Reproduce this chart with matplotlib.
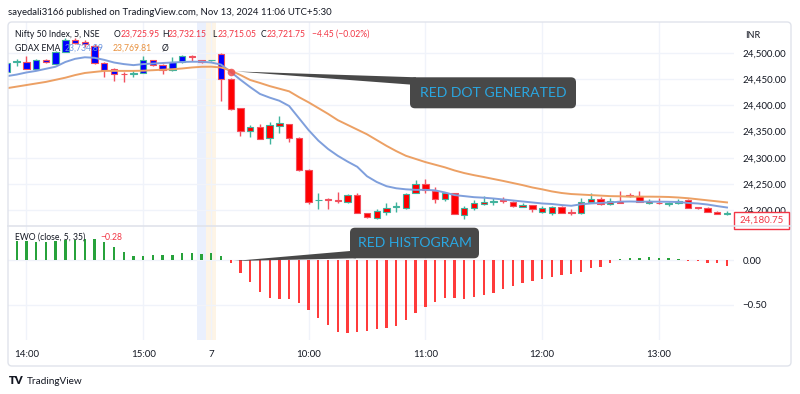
import numpy as np
import matplotlib
matplotlib.use("Agg")
import matplotlib.pyplot as plt
from matplotlib.patches import FancyBboxPatch, Polygon, Rectangle

plt.rcParams['font.family'] = ['Lato', 'DejaVu Sans']

# ---------------- data ----------------
first_bar = -1
opens = [
    24464.5, 24482.4, 24483.5, 24469.6, 24486.8, 24479.1, 24502.6, 24525.9, 24521.1, 24513.5,
    24480.5, 24469.6, 24461.0, 24460.1, 24462.5, 24486.8, 24477.2, 24467.7, 24482.4, 24493.5,
    24486.8, 24486.2, 24498.2, 24451.1, 24394.6, 24351.9, 24359.5, 24338.5, 24360.8, 24364.7,
    24337.4, 24276.9, 24219.1, 24221.6, 24219.7, 24216.4, 24228.6, 24194.3, 24184.7, 24197.3,
    24206.3, 24203.8, 24233.6, 24250.2, 24237.4, 24221.6, 24232.4, 24191.0, 24203.8, 24212.8,
    24214.9, 24219.1, 24216.4, 24206.9, 24210.1, 24196.2, 24195.4, 24206.9, 24196.2, 24194.3,
    24215.3, 24221.0, 24212.0, 24218.3, 24229.4, 24227.9, 24213.4, 24214.5, 24212.0, 24213.4,
    24219.7, 24205.7, 24205.0, 24197.3, 24193.0,
]
highs = [
    24483.0, 24488.1, 24494.4, 24488.7, 24489.6, 24503.9, 24528.7, 24528.7, 24525.9, 24517.3,
    24483.0, 24471.5, 24463.0, 24467.7, 24494.4, 24487.7, 24478.2, 24493.1, 24495.4, 24496.3,
    24487.7, 24487.1, 24499.2, 24452.4, 24395.2, 24362.8, 24364.1, 24369.0, 24380.0, 24365.6,
    24340.4, 24277.9, 24233.6, 24222.9, 24235.5, 24231.1, 24232.4, 24195.0, 24202.5, 24213.4,
    24216.4, 24233.0, 24257.8, 24259.1, 24243.9, 24235.5, 24233.0, 24208.2, 24219.7, 24227.3,
    24222.9, 24225.0, 24217.7, 24213.4, 24211.0, 24208.2, 24208.2, 24208.2, 24201.9, 24222.9,
    24233.6, 24226.0, 24222.9, 24237.4, 24233.6, 24237.4, 24221.6, 24222.9, 24216.4, 24221.0,
    24220.6, 24206.9, 24206.3, 24198.7, 24199.2,
]
lows = [
    24463.0, 24475.3, 24469.0, 24468.6, 24482.0, 24478.2, 24502.0, 24517.3, 24511.6, 24479.1,
    24453.8, 24447.3, 24445.4, 24453.8, 24462.0, 24475.3, 24460.1, 24466.7, 24482.0, 24485.8,
    24481.0, 24485.8, 24408.5, 24391.4, 24341.8, 24340.4, 24336.0, 24325.9, 24348.0, 24330.9,
    24275.9, 24212.0, 24201.9, 24201.9, 24213.4, 24213.4, 24193.9, 24185.3, 24183.4, 24191.0,
    24197.3, 24202.5, 24233.0, 24232.4, 24213.4, 24218.0, 24193.0, 24182.8, 24200.6, 24210.1,
    24210.1, 24213.4, 24207.2, 24205.7, 24196.2, 24194.9, 24191.0, 24194.9, 24191.0, 24193.0,
    24214.0, 24210.1, 24210.1, 24217.7, 24225.4, 24215.8, 24212.0, 24211.5, 24208.2, 24212.0,
    24203.4, 24202.5, 24196.7, 24192.0, 24191.0,
]
closes = [
    24480.5, 24484.9, 24469.6, 24486.8, 24482.4, 24502.6, 24524.9, 24519.2, 24518.2, 24480.5,
    24467.7, 24460.1, 24460.1, 24462.5, 24486.8, 24477.2, 24467.7, 24482.4, 24494.4, 24491.9,
    24482.4, 24486.8, 24451.1, 24392.7, 24351.9, 24358.4, 24336.6, 24362.8, 24366.0, 24338.0,
    24276.9, 24216.4, 24220.2, 24219.7, 24216.8, 24229.2, 24194.3, 24186.6, 24199.2, 24203.8,
    24207.6, 24230.5, 24250.2, 24238.7, 24221.6, 24232.4, 24193.0, 24203.8, 24214.5, 24215.8,
    24216.8, 24217.7, 24208.2, 24210.1, 24201.9, 24203.8, 24206.9, 24195.4, 24194.9, 24216.4,
    24221.0, 24211.5, 24218.3, 24213.0, 24228.1, 24216.4, 24218.3, 24213.0, 24214.5, 24218.3,
    24203.8, 24204.4, 24197.3, 24193.0, 24195.4,
]
ema_fast = [
    24456, 24459, 24463, 24466, 24470, 24474, 24483, 24489, 24492, 24491,
    24487, 24482, 24479, 24477, 24479, 24480, 24481, 24482, 24483, 24483.5,
    24483.5, 24482, 24478, 24464, 24449, 24435, 24422, 24415, 24409, 24399,
    24376, 24353, 24333, 24317, 24304, 24293, 24283, 24265, 24254, 24246,
    24242, 24240, 24239, 24239, 24238, 24234, 24229, 24227, 24225, 24224,
    24222.5, 24220.6, 24218.7, 24216.8, 24214.9, 24213, 24212, 24210, 24208.6, 24211.4,
    24213, 24214, 24215, 24216.4, 24216.8, 24216.4, 24216.4, 24216.4, 24216.2, 24215.8,
    24214, 24213, 24211, 24208, 24205.3,
]
ema_slow = [
    24433, 24436, 24439, 24442, 24445, 24449, 24453, 24458, 24462, 24464,
    24466, 24466, 24466, 24466, 24466.4, 24467.3, 24468.3, 24469.2, 24470.6, 24472.5,
    24473.8, 24474, 24472.5, 24466.7, 24458, 24448.6, 24443, 24437, 24432, 24427,
    24416, 24406, 24395, 24384, 24372, 24363, 24354, 24345, 24334, 24323,
    24313, 24304, 24298, 24292, 24287, 24282, 24276, 24271, 24267, 24263.5,
    24259.7, 24256, 24252, 24248, 24243.5, 24240, 24236, 24233, 24231, 24230,
    24229, 24228, 24227, 24226.7, 24226, 24226, 24226, 24225.8, 24225.4, 24224.4,
    24223, 24221, 24219, 24217, 24215,
]
ewo = [
    0.210, 0.211, 0.211, 0.204, 0.204, 0.211, 0.222, 0.222, 0.233, 0.233,
    0.204, 0.141, 0.093, 0.044, 0.044, 0.056, 0.056, 0.056, 0.074, 0.074,
    0.067, 0.074, 0.044, -0.037, -0.141, -0.241, -0.352, -0.419, -0.433, -0.433,
    -0.478, -0.552, -0.641, -0.722, -0.804, -0.815, -0.804, -0.789, -0.767, -0.752,
    -0.733, -0.667, -0.585, -0.519, -0.470, -0.422, -0.422, -0.430, -0.410, -0.389,
    -0.363, -0.326, -0.285, -0.259, -0.233, -0.215, -0.193, -0.167, -0.159, -0.130,
    -0.093, -0.074, -0.037, 0.011, 0.026, 0.026, 0.030, 0.026, 0.019, 0.015,
    -0.006, -0.015, -0.030, -0.037, -0.063,
]
tick_pos = [1, 13, 20, 30, 42, 54, 66]
tick_labels = ['14:00', '15:00', '7', '10:00', '11:00', '12:00', '13:00']
price_ticks = [24200, 24250, 24300, 24350, 24400, 24450, 24500]
ewo_ticks = [0.0, -0.5]
ewo_tick_labels = ['0.00', '\u22120.50']
signal_bar = 22
band_bars = [19, 20]
last_price = 24180.75

# ---------------- layout ----------------
W, H = 800, 394
fig = plt.figure(figsize=(W / 100, H / 100), dpi=100)
fig.patch.set_facecolor('white')

def fx(px):
    return px / W

def fy(py):
    return 1 - py / H

L_PX, R_PX = 8, 734
ax = fig.add_axes([fx(L_PX), fy(226), fx(R_PX) - fx(L_PX), fy(22) - fy(226)])
ax2 = fig.add_axes([fx(L_PX), fy(340), fx(R_PX) - fx(L_PX), fy(226) - fy(340)])

x = np.arange(first_bar, first_bar + len(opens))
o = np.array(opens); h = np.array(highs); l = np.array(lows); c = np.array(closes)
up = c >= o

up_col = '#40b39d'
dn_col = '#f2505e'
border = np.where(up, up_col, dn_col)
fill = np.where(x < signal_bar, '#0000ff', '#ff0000')

for a in (ax, ax2):
    a.set_xlim(-0.894, 73.72)
    for b, col in zip(band_bars, ['#eaf0fd', '#fdf4e6']):
        a.axvspan(b - 0.5, b + 0.5, color=col, zorder=0, lw=0)
    for s in a.spines.values():
        s.set_visible(False)
    a.set_xticks(tick_pos)
    a.grid(True, color='#f0f3fa', lw=1, zorder=0.5)
    a.set_axisbelow(True)
    a.yaxis.tick_right()
    a.tick_params(axis='y', length=0, pad=6, labelsize=7, labelcolor='#131722')

ax.set_ylim(24170.0, 24559.3)
ax.set_yticks(price_ticks)
ax.set_yticklabels([f'{v:,.2f}' for v in price_ticks])
ax.tick_params(axis='x', length=0, labelbottom=False)

# wicks and bodies
ax.vlines(x, l, h, colors=border, lw=1.0, zorder=2)
body_h = np.maximum(np.abs(c - o), 0.6)
ax.bar(x, body_h, bottom=np.minimum(o, c), width=0.66, color=fill,
       edgecolor=border, linewidth=0.8, zorder=3)

ax.plot(x, ema_fast, color='#7f9fdc', lw=1.4, zorder=4)
ax.plot(x, ema_slow, color='#eca064', lw=1.4, zorder=4)
sig_i = signal_bar - first_bar
ax.scatter([signal_bar], [ema_fast[sig_i]], s=30, color='#f04d4d', alpha=0.85,
           zorder=6, lw=0)

# EWO histogram
ewo_arr = np.array(ewo)
hcol = np.where(ewo_arr >= 0, '#27a23b', '#ff3b3b')
ax2.bar(x, ewo_arr, width=0.24, color=hcol, zorder=3)
ax2.set_ylim(-0.889, 0.378)
ax2.set_yticks(ewo_ticks)
ax2.set_yticklabels(ewo_tick_labels)
ax2.set_xticklabels(tick_labels)
ax2.tick_params(axis='x', length=0, pad=7, labelsize=7, labelcolor='#131722')

# ---------------- overlay ----------------
ov = fig.add_axes([0, 0, 1, 1], zorder=10)
ov.set_xlim(0, W); ov.set_ylim(H, 0)
ov.patch.set_alpha(0)
ov.axis('off')

def to_px(axis, xv, yv):
    dx, dy = axis.transData.transform((xv, yv))
    return dx, H - dy

# frame and separator
ov.add_patch(FancyBboxPatch((8, 22), 783, 344, boxstyle='round,pad=0,rounding_size=4',
                            fill=False, ec='#e0e3eb', lw=1))
ov.plot([8, 791], [226, 226], color='#e0e3eb', lw=1.2)

ink = '#131722'
ov.text(8, 12, 'sayedali3166 published on TradingView.com, Nov 13, 2024 11:06 UTC+5:30',
        fontsize=6.9, color=ink, va='center', ha='left')

red = '#f23645'
hy = 34
hfs = 6.2
ov.text(15, hy, 'Nifty 50 Index, 5, NSE', fontsize=hfs, color=ink, va='center')
for xp, s, col in [(114, 'O', ink), (121, '23,725.95', red), (162, 'H', ink), (168, '23,732.15', red),
                   (212, 'L', ink), (218, '23,715.05', red), (261, 'C', ink), (267, '23,721.75', red),
                   (312, '\u22124.45 (\u22120.02%)', red)]:
    ov.text(xp, hy, s, fontsize=hfs, color=col, va='center')
gy = 48
for xp, s, col in [(15, 'GDAX EMA', ink), (65, '23,734.89', '#6f97df'),
                   (113, '23,769.81', '#e8913f'), (162, '\u00d8', ink)]:
    ov.text(xp, gy, s, fontsize=hfs, color=col, va='center')
ov.text(15, 237.5, 'EWO (close, 5, 35)', fontsize=hfs, color=ink, va='center')
ov.text(100, 237.5, '\u22120.28', fontsize=hfs, color=red, va='center')
ov.text(745, 35, 'INR', fontsize=6.5, color=ink, va='center')

# last price label
_, lp_y = to_px(ax, 0, last_price)
ov.add_patch(Rectangle((734, lp_y - 8.5), 55, 17, fc='white', ec=red, lw=1))
ov.text(761.5, lp_y, f'{last_price:,.2f}', fontsize=7, color=red, ha='center', va='center')

# callout 1
box_col = '#484848'
txt_col = '#2aa7e2'
dx1, dy1 = to_px(ax, signal_bar, ema_fast[sig_i])
ov.add_patch(Polygon([(dx1 + 5, dy1 - 0.5), (416, 77.3), (416, 85)], closed=True, fc=box_col, ec='none'))
ov.add_patch(FancyBboxPatch((410, 77.3), 166, 31, boxstyle='round,pad=0,rounding_size=5',
                            fc=box_col, ec='none'))
ov.text(493, 93, 'RED DOT GENERATED', fontsize=10.1, color=txt_col, ha='center', va='center')

# callout 2
dx2, dy2 = to_px(ax2, signal_bar, 0.0)
ov.add_patch(Polygon([(dx2 + 3, dy2 + 1), (356, 250.5), (356, 258.3)], closed=True, fc=box_col, ec='none'))
ov.add_patch(FancyBboxPatch((350, 227.7), 129, 30.6, boxstyle='round,pad=0,rounding_size=5',
                            fc=box_col, ec='none'))
ov.text(415, 243, 'RED HISTOGRAM', fontsize=10.1, color=txt_col, ha='center', va='center')

# footer logo
ov.text(9, 381, 'TV', fontsize=8, color=ink, fontweight='heavy', va='center')
ov.text(27, 381, 'TradingView', fontsize=7.2, color=ink, va='center')

fig.savefig('out.png', dpi=100)
